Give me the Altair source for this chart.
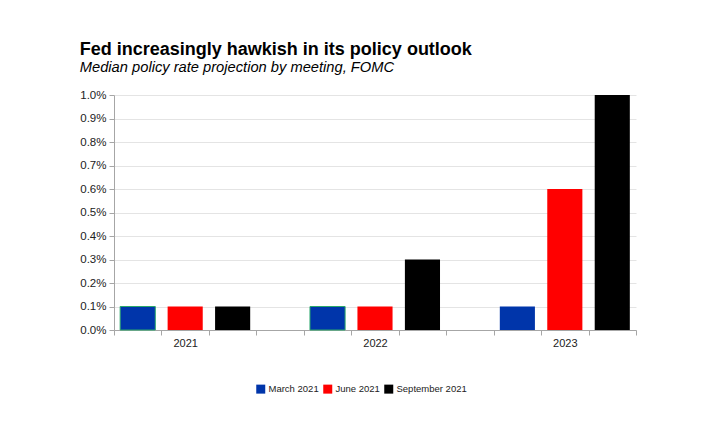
import altair as alt
import pandas as pd

years = ["2021", "2022", "2023"]
series = ["March 2021", "June 2021", "September 2021"]
colors = ["#0035AA", "#FF0000", "#000000"]
values = {
    "March 2021": [0.1, 0.1, 0.1],
    "June 2021": [0.1, 0.1, 0.6],
    "September 2021": [0.1, 0.3, 1.0],
}

slots_per_group = len(series) + 1
rows = []
for yi, yr in enumerate(years):
    for si, s in enumerate(series):
        slot = yi * slots_per_group + si
        rows.append({
            "year": yr, "series": s, "value": values[s][yi] / 100.0,
            "x0": slot + 0.13, "x1": slot + 0.87,
        })
df = pd.DataFrame(rows)

n_slots = len(years) * slots_per_group - 1
label_list = [""] * (n_slots + 1)
for yi, yr in enumerate(years):
    label_list[yi * slots_per_group + 1] = yr
label_expr = "[" + ",".join("'%s'" % l for l in label_list) + "][datum.value]"

W, H = 522, 235

bars = alt.Chart(df).mark_bar().encode(
    x=alt.X("x0:Q", scale=alt.Scale(domain=[0, n_slots], nice=False, zero=False, padding=0),
            axis=alt.Axis(values=list(range(n_slots + 1)), labelExpr=label_expr,
                          labelOffset=W / n_slots / 2, grid=False, title=None,
                          domainColor="#a6a6a6", tickColor="#a6a6a6", tickSize=5,
                          labelFontSize=11, labelColor="#222222", labelPadding=2,
                          labelFont="Liberation Sans")),
    x2="x1:Q",
    y=alt.Y("value:Q", scale=alt.Scale(domain=[0, 0.01], nice=False, padding=0),
            axis=alt.Axis(values=[i / 1000 for i in range(11)], format=".1%",
                          title=None, grid=True, gridColor="#e4e4e4",
                          domainColor="#a6a6a6", tickColor="#a6a6a6", tickSize=5,
                          labelFontSize=11.5, labelColor="#222222", labelPadding=3,
                          labelFont="Liberation Sans")),
    y2=alt.datum(0),
    color=alt.Color("series:N", scale=alt.Scale(domain=series, range=colors),
                    sort=series,
                    legend=alt.Legend(title=None, orient="none", direction="horizontal",
                                      legendX=142, legendY=289, symbolType="square",
                                      symbolSize=81, symbolStrokeWidth=0,
                                      labelFontSize=9.5, labelFont="Liberation Sans",
                                      labelColor="#222222", labelOffset=3,
                                      columnPadding=4)),
    stroke=alt.condition(
        "datum.series == 'March 2021' && datum.year != '2023'",
        alt.value("#2aa86a"), alt.value("transparent")),
    strokeWidth=alt.value(1),
).properties(
    width=W, height=H,
    title=alt.TitleParams(
        text="Fed increasingly hawkish in its policy outlook",
        subtitle="Median policy rate projection by meeting, FOMC",
        anchor="start", frame="bounds", font="Liberation Sans", fontSize=18,
        fontWeight="bold", color="#000000", subtitleFont="Liberation Sans",
        subtitleFontSize=14.7, subtitleFontStyle="italic", subtitleColor="#000000",
        subtitlePadding=1, offset=14),
    autosize=alt.AutoSizeParams(type="none"),
    padding={"left": 106, "top": 87, "right": 70, "bottom": 70},
).configure_view(stroke=None)

bars.save("out.html", embed_options={"renderer": "svg", "actions": False})
